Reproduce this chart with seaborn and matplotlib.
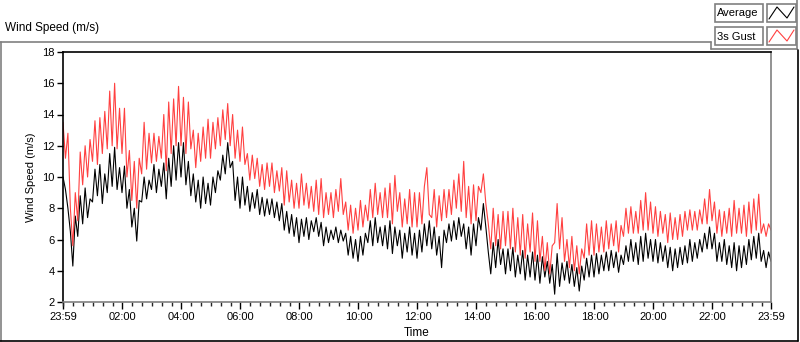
import numpy as np
import pandas as pd
import matplotlib
matplotlib.use("Agg")
import matplotlib.pyplot as plt
from matplotlib.lines import Line2D
from matplotlib.patches import Rectangle
import seaborn as sns

# ---------------- data (5-minute samples) ----------------
sample_step_min = 5
average_ms = [
    10.0, 9.2, 8.0, 6.5, 4.3, 7.5, 6.2, 8.8, 7.0, 9.3, 7.4, 8.6,
    8.4, 10.5, 8.8, 10.8, 8.3, 10.2, 9.0, 11.5, 9.4, 11.9, 9.2, 10.6,
    9.0, 10.7, 8.0, 9.2, 6.8, 8.0, 5.9, 8.5, 8.4, 10.0, 8.6, 9.8,
    9.2, 10.8, 9.0, 10.5, 9.4, 10.9, 8.6, 11.2, 9.4, 12.0, 9.8, 12.2,
    10.0, 12.2, 9.5, 11.0, 8.8, 10.2, 8.4, 9.8, 8.0, 10.0, 8.3, 9.6,
    8.2, 10.0, 9.0, 10.4, 9.8, 11.4, 10.2, 12.2, 10.6, 11.0, 8.5, 10.0,
    8.0, 10.0, 8.2, 9.4, 7.8, 9.0, 8.0, 9.2, 7.6, 8.7, 7.5, 8.6,
    7.6, 8.6, 7.4, 8.4, 7.2, 8.3, 6.6, 7.8, 6.4, 7.6, 6.2, 7.4,
    5.8, 7.3, 6.2, 7.4, 6.0, 7.2, 6.5, 7.4, 6.2, 7.1, 5.6, 6.8,
    5.8, 6.6, 6.0, 6.8, 5.8, 6.6, 5.9, 6.4, 5.0, 6.2, 4.8, 6.0,
    4.6, 6.2, 5.0, 6.4, 5.8, 7.2, 5.6, 7.4, 5.8, 6.8, 5.6, 6.9,
    5.4, 7.2, 5.1, 6.8, 5.6, 6.6, 4.8, 6.4, 5.2, 6.8, 5.0, 6.4,
    4.8, 6.6, 5.2, 7.0, 5.6, 7.2, 5.4, 6.8, 5.0, 6.2, 4.2, 6.6,
    5.8, 7.0, 5.9, 7.2, 6.0, 7.4, 6.2, 7.0, 5.4, 6.8, 5.0, 7.0,
    5.6, 7.4, 6.6, 8.3, 6.8, 5.2, 3.8, 5.8, 4.2, 6.0, 4.4, 5.4,
    3.8, 5.4, 4.0, 5.5, 3.6, 5.0, 3.8, 5.3, 3.4, 5.0, 3.6, 5.2,
    3.4, 5.0, 3.2, 4.9, 3.6, 4.6, 3.2, 4.4, 2.5, 5.1, 3.0, 4.5,
    3.4, 4.6, 3.2, 4.4, 3.0, 4.2, 2.7, 4.3, 3.4, 4.8, 3.6, 5.0,
    3.6, 5.1, 3.8, 5.0, 4.0, 5.2, 4.0, 5.3, 4.2, 5.2, 3.9, 5.0,
    4.4, 5.6, 4.6, 6.0, 4.6, 5.8, 4.4, 6.2, 4.6, 6.4, 4.8, 6.0,
    4.6, 6.0, 4.5, 5.8, 4.6, 5.6, 4.2, 5.5, 4.0, 5.4, 4.2, 5.5,
    4.4, 5.6, 4.5, 6.0, 4.6, 5.8, 4.8, 6.0, 5.2, 6.4, 5.4, 6.8,
    5.4, 6.4, 4.6, 5.8, 4.6, 6.0, 4.4, 5.6, 4.2, 5.8, 4.0, 5.6,
    4.2, 5.6, 4.4, 6.0, 4.7, 6.2, 4.8, 6.4, 4.6, 5.3, 4.2, 5.2, 4.6,
]
gust_ms = [
    13.5, 11.2, 12.8, 8.0, 5.6, 9.0, 7.2, 11.6, 9.5, 12.0, 10.0, 12.4,
    11.0, 13.6, 10.8, 13.8, 11.5, 14.2, 11.8, 15.5, 12.0, 16.0, 11.8, 14.4,
    11.5, 14.4, 10.0, 11.7, 8.5, 11.0, 8.0, 11.2, 10.2, 13.5, 10.5, 12.8,
    10.9, 12.8, 11.0, 12.6, 11.2, 14.0, 10.4, 14.8, 11.5, 15.0, 12.0, 15.8,
    12.0, 15.1, 11.5, 14.8, 11.8, 13.0, 10.6, 12.8, 11.0, 13.2, 11.2, 13.7,
    11.2, 13.5, 11.8, 13.8, 12.0, 14.3, 12.4, 14.7, 12.0, 14.0, 11.2, 13.0,
    11.0, 13.2, 10.8, 11.5, 9.8, 11.4, 9.9, 11.2, 9.4, 10.8, 9.2, 10.9,
    9.4, 10.9, 9.0, 10.4, 9.1, 10.6, 8.2, 10.4, 8.4, 9.8, 8.0, 9.6,
    8.0, 10.2, 8.2, 9.6, 8.0, 9.4, 7.8, 9.8, 7.6, 9.9, 7.4, 9.0,
    7.6, 9.0, 7.4, 9.2, 7.8, 9.9, 7.6, 8.4, 6.6, 8.2, 6.4, 8.0,
    6.6, 8.5, 6.8, 8.2, 7.2, 9.2, 7.4, 9.6, 7.6, 9.0, 7.4, 9.3,
    7.4, 9.6, 7.0, 10.1, 7.8, 9.0, 6.8, 8.6, 7.0, 9.2, 6.8, 9.0,
    6.8, 9.0, 7.0, 9.4, 10.6, 7.6, 7.4, 9.2, 6.8, 8.8, 7.2, 9.2,
    7.4, 9.2, 7.6, 9.8, 8.0, 10.2, 7.8, 11.0, 7.4, 9.4, 7.0, 9.5,
    7.2, 9.4, 9.0, 10.2, 8.3, 7.0, 5.4, 8.0, 5.6, 7.6, 5.4, 7.8,
    5.6, 7.8, 5.4, 8.0, 5.2, 7.4, 5.0, 7.6, 4.8, 7.0, 5.2, 7.7,
    4.6, 7.2, 4.6, 6.2, 4.0, 5.8, 3.8, 5.6, 5.8, 8.3, 5.4, 7.4,
    4.6, 6.0, 4.2, 6.2, 4.0, 5.6, 3.8, 5.4, 4.8, 7.0, 5.0, 7.2,
    5.0, 7.0, 5.2, 6.8, 5.2, 7.2, 5.4, 7.0, 5.6, 7.2, 5.2, 6.9,
    6.2, 8.0, 6.4, 8.1, 6.4, 7.8, 6.4, 8.5, 6.6, 9.0, 6.6, 8.4,
    6.4, 8.1, 6.2, 7.8, 6.4, 7.6, 5.8, 7.7, 6.0, 7.4, 6.0, 7.6,
    6.2, 7.8, 6.6, 7.9, 6.6, 7.8, 6.6, 7.9, 7.0, 8.6, 7.0, 9.2,
    7.2, 8.4, 6.4, 7.9, 6.2, 7.8, 6.4, 8.0, 6.2, 8.5, 6.4, 8.0,
    6.4, 8.2, 6.2, 8.4, 6.4, 8.6, 6.6, 8.9, 6.4, 7.0, 6.2, 7.0, 6.6,
]
series_names = ["Average", "3s Gust"]
series_colors = ["#000000", "#ff4040"]
x_tick_labels = ["23:59", "02:00", "04:00", "06:00", "08:00", "10:00", "12:00",
                 "14:00", "16:00", "18:00", "20:00", "22:00", "23:59"]
y_ticks = [2, 4, 6, 8, 10, 12, 14, 16, 18]
title_text = "Wind Speed (m/s)"
y_label = "Wind Speed (m/s)"
x_label = "Time"

# ---------------- figure ----------------
sns.set_style("white")
plt.rcParams["font.family"] = ["Liberation Sans", "DejaVu Sans"]

W, H = 800, 342
fig = plt.figure(figsize=(W / 100, H / 100), dpi=100)


def fx(px):
    return px / W


def fy(py):
    return 1 - py / H


ax = fig.add_axes([fx(63), fy(302), fx(771) - fx(63), fy(52) - fy(302)])

minutes = np.arange(len(average_ms)) * sample_step_min
df = pd.DataFrame({"minute": minutes, series_names[0]: average_ms, series_names[1]: gust_ms})

sns.lineplot(data=df, x="minute", y=series_names[0], color=series_colors[0],
             lw=0.8, estimator=None, sort=False, ax=ax, legend=False)
sns.lineplot(data=df, x="minute", y=series_names[1], color=series_colors[1],
             lw=0.8, estimator=None, sort=False, ax=ax, legend=False)

total_min = minutes[-1]
ax.set_xlim(0, total_min)
ax.set_ylim(min(y_ticks), max(y_ticks))


def label_to_min(lbl, last=False):
    h, m = map(int, lbl.split(":"))
    v = (h * 60 + m - (23 * 60 + 59)) % 1440
    return total_min if (last and v == 0) else v


major_pos = [label_to_min(l, i == len(x_tick_labels) - 1) for i, l in enumerate(x_tick_labels)]
ax.set_xticks(major_pos)
ax.set_xticklabels(x_tick_labels)
minor_pos = [m for m in range(1, int(total_min), 20) if m not in major_pos]
ax.set_xticks(minor_pos, minor=True)
ax.set_yticks(y_ticks)
ax.set_yticklabels([str(v) for v in y_ticks])

ax.tick_params(axis="both", which="major", direction="out", length=4, width=1,
               labelsize=8, colors="black", pad=2)
ax.tick_params(axis="x", which="major", length=5)
ax.tick_params(axis="x", which="minor", direction="out", length=3, width=1, bottom=True)
ax.tick_params(axis="y", left=True)
ax.tick_params(axis="x", bottom=True)

for side in ["top", "left"]:
    ax.spines[side].set_color("black")
    ax.spines[side].set_linewidth(1.2)
for side in ["bottom", "right"]:
    ax.spines[side].set_color("#808080")
    ax.spines[side].set_linewidth(1.2)
for s in ax.spines.values():
    s.set_visible(True)

ax.set_xlabel(x_label, fontsize=8.5, color="black")
ax.set_ylabel(y_label, fontsize=8, color="black")
ax.xaxis.set_label_coords(0.5, (302 - 327) / 250)
ax.yaxis.set_label_coords((36 - 63) / 708, 0.5)

# title
fig.text(fx(5), fy(31), title_text, fontsize=8.5, ha="left", va="baseline", color="black")

# outer frame
frame = [
    ((0, 42), (711, 42), "#808080"),
    ((711, 42), (711, 49), "#808080"),
    ((711, 49), (797, 49), "#808080"),
    ((797, 0), (797, 49), "#808080"),
    ((0.5, 42), (0.5, 341), "#808080"),
    ((0, 341), (798, 341), "black"),
    ((797.5, 50), (797.5, 341), "black"),
]
for (x0, y0), (x1, y1), c in frame:
    fig.add_artist(Line2D([fx(x0), fx(x1)], [fy(y0), fy(y1)], color=c, lw=1.2,
                          transform=fig.transFigure))

# legend (LabVIEW plot legend style)
for i, (name, col) in enumerate(zip(series_names, series_colors)):
    top = 4 + i * 23
    bot = top + 18
    fig.add_artist(Rectangle((fx(715), fy(bot)), fx(763) - fx(715), fy(top) - fy(bot),
                             transform=fig.transFigure, facecolor="white",
                             edgecolor="#808080", lw=1.2))
    fig.add_artist(Rectangle((fx(767), fy(bot)), fx(796) - fx(767), fy(top) - fy(bot),
                             transform=fig.transFigure, facecolor="white",
                             edgecolor="#808080", lw=1.2))
    fig.text(fx(717), fy((top + bot) / 2 + 0.5), name, fontsize=8, ha="left", va="center",
             color="black")
    zx = [769, 777, 787, 794]
    zy = [bot - 3, top + 3, bot - 4, top + 3]
    fig.add_artist(Line2D([fx(v) for v in zx], [fy(v) for v in zy], color=col, lw=0.8,
                          transform=fig.transFigure))

fig.savefig("out.png", dpi=100)
